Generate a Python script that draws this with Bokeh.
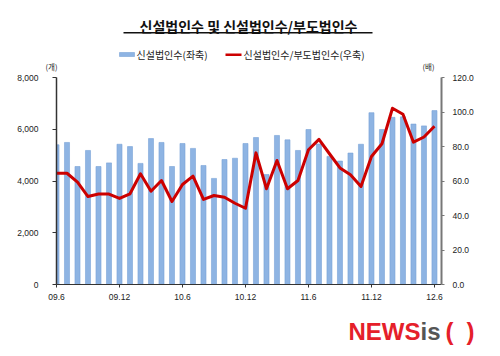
from bokeh.plotting import figure
from bokeh.layouts import column
from bokeh.models import Range1d, LinearAxis, ColumnDataSource, FixedTicker, NumeralTickFormatter
from bokeh.core.properties import value
from bokeh.embed import file_html
from bokeh.resources import INLINE

months = ["09.6", "09.7", "09.8", "09.9", "09.10", "09.11", "09.12",
          "10.1", "10.2", "10.3", "10.4", "10.5", "10.6", "10.7", "10.8", "10.9", "10.10", "10.11", "10.12",
          "11.1", "11.2", "11.3", "11.4", "11.5", "11.6", "11.7", "11.8", "11.9", "11.10", "11.11", "11.12",
          "12.1", "12.2", "12.3", "12.4", "12.5", "12.6"]
new_corps = [5400, 5490, 4560, 5180, 4560, 4700, 5420,
             5330, 4680, 5640, 5490, 4560, 5450, 5260, 4600, 4100, 4830, 4880, 5450,
             5680, 4250, 5760, 5590, 5180, 5990, 5430, 4950, 4770, 5080, 5420, 6640,
             5990, 6460, 6480, 6200, 6130, 6720]
ratio = [64.5, 64.5, 59.3, 51.0, 52.5, 52.4, 49.9,
         52.6, 64.2, 54.1, 60.3, 48.1, 58.0, 62.8, 49.3, 51.6, 50.6, 47.1, 44.2,
         76.3, 55.5, 71.9, 55.5, 60.3, 78.1, 84.1, 75.8, 67.6, 63.6, 56.8, 74.2,
         81.6, 102.2, 98.7, 82.5, 85.5, 91.7]
tick_labels = ["09.6", "09.12", "10.6", "10.12", "11.6", "11.12", "12.6"]

title_text = "신설법인수 및 신설법인수/부도법인수"
legend_bar = "신설법인수(좌축)"
legend_line = "신설법인수/부도법인수(우축)"

KFONT = "Noto Sans CJK KR"
NFONT = "Liberation Sans"
BAR_FILL = "#8EB4E3"
BAR_EDGE = "#79A2D6"
LINE_COL = "#CC0000"

W = 490


def blank(height, y0, y1):
    f = figure(width=W, height=height, output_backend="svg", toolbar_location=None,
               x_range=Range1d(0, W), y_range=Range1d(y1, y0),
               x_axis_location=None, y_axis_location=None, frame_align=False,
               min_border_left=0, min_border_right=0, min_border_top=0, min_border_bottom=0)
    f.outline_line_color = None
    f.xgrid.visible = False
    f.ygrid.visible = False
    f.background_fill_color = "white"
    f.border_fill_color = "white"
    return f


# ---------- top: title, legend, unit labels (page coordinates) ----------
TOP_H = 72
top = blank(TOP_H, 0, TOP_H)
top.text(x=[248], y=[25.5], text=[title_text], text_align="center", text_baseline="middle",
         text_font=value(KFONT), text_font_size=value("14px"), text_font_style="bold",
         text_color="#111111")
top.quad(left=[123], right=[372], top=[31.6], bottom=[33.1], fill_color="#111111",
         line_color=None)
top.quad(left=[119], right=[134], top=[52], bottom=[56], fill_color=BAR_FILL,
         line_color=BAR_EDGE, line_width=0.6)
top.text(x=[136], y=[54], text=[legend_bar], text_align="left", text_baseline="middle",
         text_font=value(KFONT), text_font_size=value("10px"), text_color="#222222")
top.quad(left=[225], right=[241], top=[53], bottom=[55.5], fill_color=LINE_COL, line_color=None)
top.text(x=[243], y=[54], text=[legend_line], text_align="left", text_baseline="middle",
         text_font=value(KFONT), text_font_size=value("10px"), text_color="#222222")
top.text(x=[51, 428], y=[65.5, 65.5], text=["(개)", "(배)"], text_align="center",
         text_baseline="middle", text_font=value(KFONT), text_font_size=value("7.5px"),
         text_color="#222222")

# ---------- main chart ----------
idx = list(range(len(months)))
src = ColumnDataSource(dict(x=idx, bars=new_corps, ratio=ratio))

FL, FR, FT, FB = 56, 441, 77, 284
BT, BB = FT - TOP_H, 24
p = figure(width=W, height=BT + (FB - FT) + BB, output_backend="svg", toolbar_location=None,
           x_range=Range1d(0, 36.67), y_range=Range1d(0, 8000), frame_align=False,
           min_border_left=FL, min_border_right=W - FR, min_border_top=BT, min_border_bottom=BB)
p.outline_line_color = None
p.xgrid.visible = False
p.ygrid.visible = False
p.background_fill_color = "white"
p.border_fill_color = "white"
p.extra_y_ranges = {"r": Range1d(0, 120)}

p.vbar(x="x", top="bars", width=0.48, source=src, fill_color=BAR_FILL,
       line_color=BAR_EDGE, line_width=0.6)
p.line(x="x", y="ratio", source=src, line_color=LINE_COL, line_width=3,
       y_range_name="r", line_join="round")

xa = p.xaxis[0]
xa.ticker = FixedTicker(ticks=[idx[months.index(t)] for t in tick_labels])
xa.major_label_overrides = {idx[months.index(t)]: t for t in tick_labels}
xa.minor_tick_line_color = None
xa.major_tick_in = 0
xa.major_tick_out = 3
xa.major_label_standoff = 6
xa.axis_line_color = "#333333"
xa.major_tick_line_color = "#333333"
xa.major_label_text_font = NFONT
xa.major_label_text_font_size = "8.5px"
xa.major_label_text_color = "#222222"

ya = p.yaxis[0]
ya.ticker = FixedTicker(ticks=[0, 2000, 4000, 6000, 8000])
ya.formatter = NumeralTickFormatter(format="0,0")
ya.minor_tick_line_color = None
ya.major_tick_in = 0
ya.major_tick_out = 4
ya.major_label_standoff = 14
ya.axis_line_color = "#333333"
ya.axis_line_width = 1.5
ya.major_tick_line_color = "#333333"
ya.major_label_text_font = NFONT
ya.major_label_text_font_size = "8.5px"
ya.major_label_text_color = "#222222"

ra = LinearAxis(y_range_name="r")
ra.ticker = FixedTicker(ticks=[0, 20, 40, 60, 80, 100, 120])
ra.formatter = NumeralTickFormatter(format="0.0")
ra.minor_tick_line_color = None
ra.major_tick_in = 0
ra.major_tick_out = 3
ra.major_label_standoff = 8
ra.axis_line_color = "#777777"
ra.axis_line_width = 2
ra.major_tick_line_color = "#777777"
ra.major_label_text_font = NFONT
ra.major_label_text_font_size = "8.5px"
ra.major_label_text_color = "#222222"
p.add_layout(ra, "right")

# ---------- bottom: watermark (page coordinates) ----------
MAIN_BOTTOM = FB + BB
BOT_H = 356 - MAIN_BOTTOM
bot = blank(BOT_H, MAIN_BOTTOM, MAIN_BOTTOM + BOT_H)
WM = "Liberation Sans"
wm = [("NEWS", 420, "right", "#E5202A"), ("is", 420, "left", "#555555"),
      ("(", 445, "left", "#E5202A"), (")", 474, "right", "#E5202A")]
for t, xx, al, col in wm:
    bot.text(x=[xx], y=[331], text=[t], text_align=al, text_baseline="alphabetic",
             text_font=value(WM), text_font_size=value("24px"), text_font_style="bold",
             text_color=col)

layout = column(top, p, bot, spacing=0)
open("out.html", "w").write(file_html(layout, INLINE))
